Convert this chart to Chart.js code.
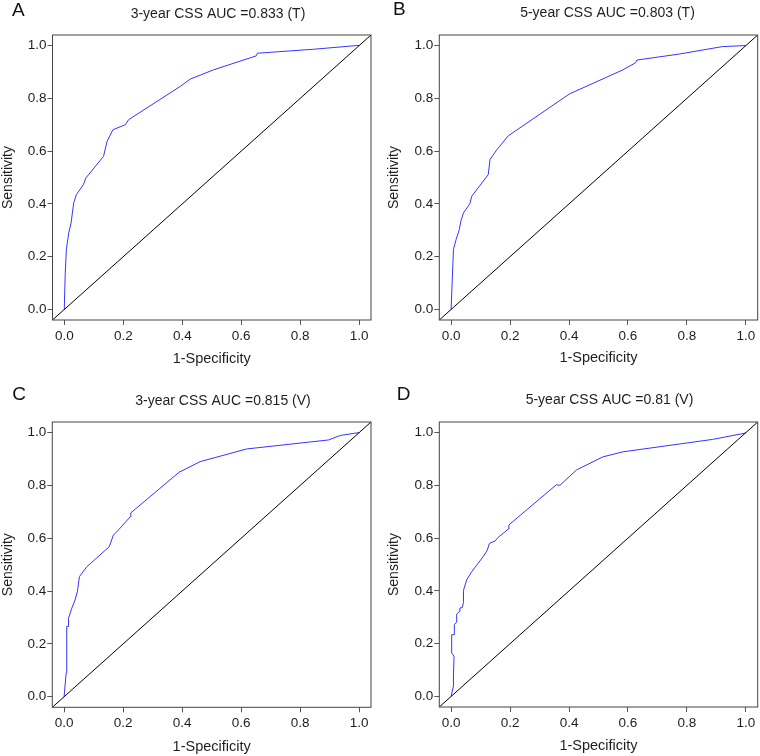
<!DOCTYPE html>
<html>
<head>
<meta charset="utf-8">
<script src="https://cdn.jsdelivr.net/npm/chart.js@4.4.0/dist/chart.umd.min.js"></script>
<style>
    body { margin: 0; background: #ffffff; }
    #wrap { position: relative; width: 760px; height: 756px; }
    canvas { position: absolute; }
</style>
</head>
<body>
<div id="wrap">
    <canvas id="rocA" width="380" height="378" style="left:0px;top:0px"></canvas>
    <canvas id="rocB" width="380" height="378" style="left:380px;top:0px"></canvas>
    <canvas id="rocC" width="380" height="378" style="left:0px;top:378px"></canvas>
    <canvas id="rocD" width="380" height="378" style="left:380px;top:378px"></canvas>
</div>
<script>
// ---- data ----
var tickValues = [0.0, 0.2, 0.4, 0.6, 0.8, 1.0];
var axisMin = -0.04, axisMax = 1.04;

var panelLetters = ['A', 'B', 'C', 'D'];
var panelTitles = [
    '3-year CSS AUC =0.833 (T)',
    '5-year CSS AUC =0.803 (T)',
    '3-year CSS AUC =0.815 (V)',
    '5-year CSS AUC =0.81 (V)'
];

// A: 3-year, training
var fprA = [0, 0.003, 0.007, 0.015, 0.023, 0.032, 0.041, 0.065, 0.073, 0.133, 0.145, 0.165, 0.207, 0.218, 0.393, 0.427, 0.506, 0.651, 0.655, 0.845, 0.992, 1];
var tprA = [0, 0.132, 0.227, 0.29, 0.328, 0.404, 0.435, 0.473, 0.498, 0.58, 0.637, 0.681, 0.70, 0.719, 0.845, 0.873, 0.908, 0.961, 0.971, 0.986, 1.0, 1];

// B: 5-year, training
var fprB = [0, 0.0045, 0.008, 0.017, 0.028, 0.033, 0.042, 0.064, 0.07, 0.126, 0.132, 0.155, 0.194, 0.402, 0.583, 0.626, 0.63, 0.775, 0.92, 1];
var tprB = [0, 0.126, 0.227, 0.265, 0.303, 0.334, 0.366, 0.401, 0.429, 0.511, 0.568, 0.605, 0.658, 0.817, 0.908, 0.935, 0.945, 0.968, 0.996, 1];

// C: 3-year, validation
var fprC = [0, 0.007, 0.009, 0.015, 0.015, 0.026, 0.037, 0.045, 0.052, 0.077, 0.153, 0.167, 0.184, 0.224, 0.226, 0.39, 0.461, 0.619, 0.896, 0.936, 1];
var tprC = [0, 0.09, 0.266, 0.266, 0.297, 0.335, 0.366, 0.398, 0.455, 0.492, 0.568, 0.612, 0.631, 0.681, 0.696, 0.85, 0.89, 0.938, 0.972, 0.989, 1];

// D: 5-year, validation
var fprD = [0, 0.008, 0.008, 0.01, 0.002, 0.002, 0.01, 0.011, 0.019, 0.019, 0.028, 0.03, 0.038, 0.042, 0.042, 0.053, 0.07, 0.109, 0.123, 0.13, 0.149, 0.16, 0.194, 0.196, 0.357, 0.369, 0.425, 0.515, 0.583, 0.887, 0.994, 1];
var tprD = [0, 0.039, 0.077, 0.152, 0.165, 0.234, 0.234, 0.272, 0.282, 0.312, 0.322, 0.335, 0.337, 0.356, 0.402, 0.442, 0.473, 0.53, 0.555, 0.58, 0.589, 0.603, 0.634, 0.65, 0.802, 0.8, 0.858, 0.908, 0.927, 0.974, 0.997, 1];

// ---- layout of each panel (canvas coords) ----
var panelLayout = [
    { left: 52.5, top: 35, right: 371,   bottom: 320,   padL: 0,   padB: 10.6, titleX: 218,   titleY: 14,   letterX: 12,   letterY: 11 },
    { left: 59.3, top: 35, right: 377.7, bottom: 320,   padL: 5.3, padB: 11,   titleX: 227.5, titleY: 13,   letterX: 13,   letterY: 10 },
    { left: 52.3, top: 44, right: 371,   bottom: 329.3, padL: 0,   padB: 0.5,  titleX: 223,   titleY: 22.7, letterX: 12.3, letterY: 16.3 },
    { left: 59.3, top: 44, right: 377.7, bottom: 329,   padL: 5.6, padB: 1.3,  titleX: 229.5, titleY: 22,   letterX: 16.7, letterY: 16.7 }
];

var FONT = "'Liberation Sans', Arial, Helvetica, sans-serif";
var TEXT_COLOR = '#1e1e1e';

function drawRocChart(canvasId, fpr, tpr, idx) {
    var L = panelLayout[idx];
    var W = 380, H = 378;

    var curve = fpr.map(function (v, i) { return { x: v, y: tpr[i] }; });
    var diagonal = [{ x: axisMin, y: axisMin }, { x: axisMax, y: axisMax }];

    var axisGrid = {
        drawOnChartArea: false,
        drawTicks: true,
        tickLength: 5,
        color: '#555555',
        lineWidth: 1
    };

    return new Chart(document.getElementById(canvasId).getContext('2d'), {
        type: 'line',
        data: {
            datasets: [{
                data: diagonal,
                borderColor: '#000000',
                borderWidth: 1,
                pointRadius: 0
            }, {
                data: curve,
                borderColor: '#3535ff',
                borderWidth: 1,
                pointRadius: 0
            }]
        },
        options: {
            responsive: false,
            animation: false,
            layout: {
                padding: { left: L.padL, top: L.top, right: W - L.right, bottom: L.padB }
            },
            plugins: {
                legend: { display: false },
                tooltip: { enabled: false }
            },
            scales: {
                x: {
                    type: 'linear',
                    min: axisMin,
                    max: axisMax,
                    afterBuildTicks: function (scale) {
                        scale.ticks = tickValues.map(function (v) { return { value: v }; });
                    },
                    afterFit: function (scale) {
                        scale.height = (H - L.padB) - L.bottom;
                    },
                    grid: axisGrid,
                    border: { display: false },
                    ticks: {
                        autoSkip: false,
                        maxRotation: 0,
                        padding: 3,
                        color: TEXT_COLOR,
                        font: { family: FONT, size: 13.5 },
                        callback: function (v) { return Number(v).toFixed(1); }
                    },
                    title: {
                        display: true,
                        text: '1-Specificity',
                        color: TEXT_COLOR,
                        padding: 0,
                        font: { family: FONT, size: 14.5 }
                    }
                },
                y: {
                    type: 'linear',
                    min: axisMin,
                    max: axisMax,
                    afterBuildTicks: function (scale) {
                        scale.ticks = tickValues.map(function (v) { return { value: v }; });
                    },
                    afterFit: function (scale) {
                        scale.width = L.left - L.padL;
                    },
                    grid: axisGrid,
                    border: { display: false },
                    ticks: {
                        autoSkip: false,
                        padding: 1,
                        color: TEXT_COLOR,
                        font: { family: FONT, size: 13.5 },
                        callback: function (v) { return Number(v).toFixed(1); }
                    },
                    title: {
                        display: true,
                        text: 'Sensitivity',
                        color: TEXT_COLOR,
                        padding: 0,
                        font: { family: FONT, size: 14 }
                    }
                }
            }
        },
        plugins: [{
            id: 'rocFrame' + idx,
            afterDraw: function (chart) {
                var ctx = chart.ctx, a = chart.chartArea;
                ctx.save();
                // plot box
                ctx.strokeStyle = '#444444';
                ctx.lineWidth = 1;
                ctx.strokeRect(a.left, a.top, a.right - a.left, a.bottom - a.top);
                // panel title
                ctx.fillStyle = TEXT_COLOR;
                ctx.textBaseline = 'middle';
                ctx.textAlign = 'center';
                ctx.font = '14px ' + FONT;
                ctx.fillText(panelTitles[idx], L.titleX, L.titleY);
                // panel letter
                ctx.textAlign = 'left';
                ctx.font = '19px ' + FONT;
                ctx.fillStyle = '#111111';
                ctx.fillText(panelLetters[idx], L.letterX, L.letterY);
                ctx.restore();
            }
        }]
    });
}

var rocChartA = drawRocChart('rocA', fprA, tprA, 0);
var rocChartB = drawRocChart('rocB', fprB, tprB, 1);
var rocChartC = drawRocChart('rocC', fprC, tprC, 2);
var rocChartD = drawRocChart('rocD', fprD, tprD, 3);
</script>
</body>
</html>
